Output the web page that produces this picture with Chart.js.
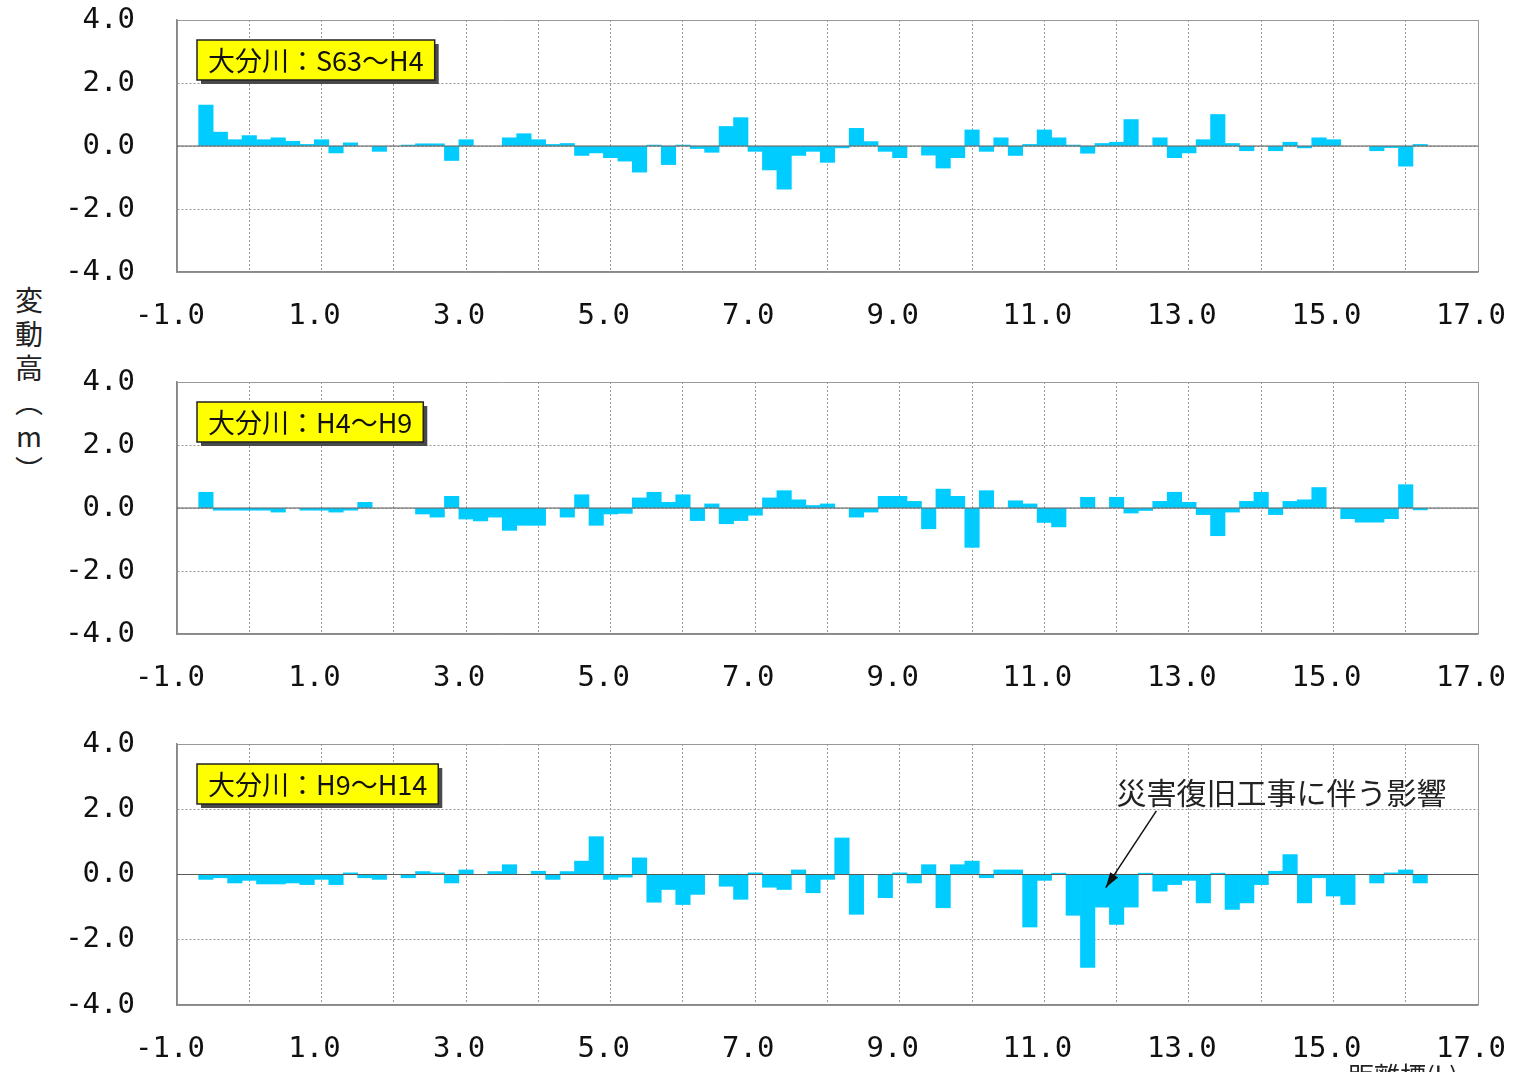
<!DOCTYPE html>
<html>
<head>
<meta charset="utf-8">
<script src="https://cdn.jsdelivr.net/npm/chart.js@4.4.1/dist/chart.umd.min.js"></script>
<style>
html, body { margin: 0; padding: 0; background: #fff; }
body { width: 1514px; height: 1072px; overflow: hidden; position: relative; }
canvas { position: absolute; left: 0; }
#yTitle { position: absolute; left: 9px; top: 286px; writing-mode: vertical-rl; text-orientation: upright;
  font: 28px "Noto Sans CJK JP"; letter-spacing: 6px; color: #222; }
#xTitle { position: absolute; left: 1348px; top: 1056px; font: 26px "Noto Sans CJK JP"; color: #222; }
</style>
</head>
<body>
<div id="yTitle">変動高（m）</div>
<canvas id="c1" width="1514" height="362" style="top:0px"></canvas>
<canvas id="c2" width="1514" height="362" style="top:362px"></canvas>
<canvas id="c3" width="1514" height="348" style="top:724px"></canvas>
<div id="xTitle">距離標(k)</div>
<script>
// distance marks (km)
const distances = [-0.6,-0.4,-0.2,0.0,0.2,0.4,0.6,0.8,1.0,1.2,1.4,1.6,1.8,2.0,2.2,2.4,2.6,2.8,3.0,3.2,
  3.4,3.6,3.8,4.0,4.2,4.4,4.6,4.8,5.0,5.2,5.4,5.6,5.8,6.0,6.2,6.4,6.6,6.8,7.0,7.2,
  7.4,7.6,7.8,8.0,8.2,8.4,8.6,8.8,9.0,9.2,9.4,9.6,9.8,10.0,10.2,10.4,10.6,10.8,11.0,11.2,
  11.4,11.6,11.8,12.0,12.2,12.4,12.6,12.8,13.0,13.2,13.4,13.6,13.8,14.0,14.2,14.4,14.6,14.8,15.0,15.2,
  15.4,15.6,15.8,16.0,16.2];

// 変動高 (m)
const changeS63H4 = [1.3,0.44,0.2,0.33,0.2,0.26,0.15,0.05,0.2,-0.22,
  0.1,null,-0.17,null,0.03,0.07,0.07,-0.46,0.2,null,
  null,0.26,0.39,0.2,0.05,0.08,-0.3,-0.22,-0.37,-0.48,
  -0.83,0.03,-0.59,0.03,-0.08,-0.2,0.62,0.9,-0.17,-0.76,
  -1.37,-0.3,-0.17,-0.52,-0.06,0.56,0.14,-0.17,-0.37,null,
  -0.29,-0.7,-0.37,0.51,-0.17,0.26,-0.3,0.05,0.51,0.26,
  0.03,-0.23,0.08,0.12,0.84,null,0.26,-0.37,-0.22,0.2,
  1.0,0.08,-0.15,null,-0.15,0.12,-0.06,0.26,0.2,null,
  null,-0.15,-0.05,-0.64,0.05];
const changeH4H9 = [0.5,-0.07,-0.07,-0.07,-0.07,-0.13,null,-0.07,-0.07,-0.13,
  -0.07,0.18,null,null,null,-0.19,-0.29,0.37,-0.35,-0.41,
  -0.29,-0.71,-0.55,-0.55,null,-0.29,0.42,-0.55,-0.19,-0.17,
  0.32,0.5,0.18,0.42,-0.4,0.13,-0.5,-0.4,-0.23,0.32,
  0.55,0.26,0.08,0.13,null,-0.29,-0.13,0.37,0.37,0.21,
  -0.66,0.6,0.37,-1.25,0.55,null,0.23,0.13,-0.46,-0.6,
  null,0.34,null,0.34,-0.16,-0.08,0.21,0.5,0.18,-0.21,
  -0.88,-0.13,0.21,0.5,-0.21,0.21,0.26,0.65,null,-0.34,
  -0.45,-0.45,-0.34,0.74,-0.06];
const changeH9H14 = [-0.15,-0.1,-0.26,-0.18,-0.29,-0.29,-0.26,-0.31,-0.15,-0.31,
  0.05,-0.1,-0.15,null,-0.1,0.09,0.05,-0.26,0.14,null,
  0.09,0.3,null,0.1,-0.15,0.09,0.41,1.16,-0.15,-0.08,
  0.51,-0.85,-0.46,-0.92,-0.61,null,-0.36,-0.76,0.05,-0.39,
  -0.46,0.14,-0.56,-0.15,1.12,-1.22,null,-0.71,0.05,-0.26,
  0.3,-1.02,0.3,0.41,-0.1,0.14,0.14,-1.61,-0.18,0.04,
  -1.25,-2.85,-1.0,-1.53,-1.0,0.04,-0.51,-0.31,-0.18,-0.87,
  0.04,-1.07,-0.87,-0.31,0.1,0.61,-0.87,-0.1,-0.66,-0.92,
  null,-0.26,0.05,0.14,-0.26];

const xTickLabels = ['-1.0','1.0','3.0','5.0','7.0','9.0','11.0','13.0','15.0','17.0'];
const yTickLabels = ['-4.0','-2.0','0.0','2.0','4.0'];
const panelLabels = ['大分川：S63～H4', '大分川：H4～H9', '大分川：H9～H14'];
const noteText = '災害復旧工事に伴う影響';

const tickFont = { family: "'DejaVu Sans Mono', monospace", size: 29 };

const panelDecor = {
    id: 'panelDecor',
    afterDatasetsDraw(chart, args, opts) {
        const { ctx, chartArea, scales } = chart;
        const y0 = scales.y.getPixelForValue(0);
        ctx.save();
        ctx.strokeStyle = '#5a5a5a';
        ctx.lineWidth = 1.2;
        ctx.beginPath();
        ctx.moveTo(chartArea.left, y0);
        ctx.lineTo(chartArea.right, y0);
        ctx.stroke();

        // yellow label box
        ctx.font = '27px "Noto Sans CJK JP"';
        const w = ctx.measureText(opts.label).width;
        const bx = chartArea.left + 20, by = chartArea.top + 20, bw = w + 22, bh = 40;
        ctx.fillStyle = '#4a4a4a';
        ctx.fillRect(bx + 4, by + 4, bw, bh);
        ctx.fillStyle = '#ffff00';
        ctx.fillRect(bx, by, bw, bh);
        ctx.strokeStyle = '#222';
        ctx.lineWidth = 1.5;
        ctx.strokeRect(bx, by, bw, bh);
        ctx.fillStyle = '#111';
        ctx.textBaseline = 'middle';
        ctx.fillText(opts.label, bx + 11, by + bh / 2 + 1);

        if (opts.note) {
            const n = opts.note;
            const sx = scales.x, sy = scales.y;
            ctx.font = '30px "Noto Sans CJK JP"';
            ctx.textAlign = 'center';
            ctx.fillStyle = '#222';
            ctx.fillText(n.text, sx.getPixelForValue(n.tx), sy.getPixelForValue(n.ty));
            const x1 = sx.getPixelForValue(n.fromX), y1 = sy.getPixelForValue(n.fromY);
            const x2 = sx.getPixelForValue(n.toX), y2 = sy.getPixelForValue(n.toY);
            ctx.strokeStyle = '#111';
            ctx.lineWidth = 1.5;
            ctx.beginPath();
            ctx.moveTo(x1, y1);
            ctx.lineTo(x2, y2);
            ctx.stroke();
            const ang = Math.atan2(y2 - y1, x2 - x1);
            ctx.beginPath();
            ctx.moveTo(x2, y2);
            ctx.lineTo(x2 - 16 * Math.cos(ang - 0.3), y2 - 16 * Math.sin(ang - 0.3));
            ctx.lineTo(x2 - 16 * Math.cos(ang + 0.3), y2 - 16 * Math.sin(ang + 0.3));
            ctx.closePath();
            ctx.fillStyle = '#111';
            ctx.fill();
        }
        ctx.restore();
    }
};

function makePanel(id, values, label, xAxisHeight, note) {
    const points = distances.map((d, i) => ({ x: d, y: values[i] }));
    new Chart(document.getElementById(id), {
        type: 'bar',
        data: {
            datasets: [{
                data: points,
                backgroundColor: '#00CCFF',
                borderWidth: 0,
                barPercentage: 1.0,
                categoryPercentage: 1.0
            }]
        },
        options: {
            responsive: false,
            animation: false,
            layout: { padding: { top: 20, right: 36, left: 0, bottom: 0 } },
            scales: {
                x: {
                    type: 'linear',
                    min: -1,
                    max: 17,
                    offset: false,
                    grid: { offset: false, drawTicks: false, color: '#999', lineWidth: 1 },
                    border: {
                        display: true, color: '#888', width: 1.5,
                        dash: ctx => (ctx.tick && ctx.tick.value !== 17 && ctx.tick.value !== -1) ? [2, 2] : []
                    },
                    ticks: {
                        stepSize: 1,
                        autoSkip: false,
                        maxRotation: 0,
                        padding: 27,
                        labelOffset: -7,
                        color: '#111',
                        font: tickFont,
                        callback: v => {
                            const s = v.toFixed(1);
                            return xTickLabels.includes(s) ? s : '';
                        }
                    },
                    afterFit: s => {
                        s.height = xAxisHeight;
                        s.paddingLeft = 0;
                        s.paddingRight = 0;
                    }
                },
                y: {
                    min: -4,
                    max: 4,
                    grid: { drawTicks: false, color: '#999', lineWidth: 1 },
                    border: {
                        display: true, color: '#888', width: 1.5,
                        dash: ctx => (ctx.tick && Math.abs(ctx.tick.value) !== 4) ? [2, 2] : []
                    },
                    ticks: {
                        stepSize: 2,
                        padding: 42,
                        color: '#111',
                        font: tickFont,
                        callback: v => {
                            const s = v.toFixed(1);
                            return yTickLabels.includes(s) ? s : '';
                        }
                    },
                    afterFit: s => {
                        s.width = 177;
                        s.paddingTop = 0;
                        s.paddingBottom = 0;
                    }
                }
            },
            plugins: {
                legend: { display: false },
                tooltip: { enabled: false },
                panelDecor: { label: label, note: note }
            }
        },
        plugins: [panelDecor]
    });
}

makePanel('c1', changeS63H4, panelLabels[0], 90, null);
makePanel('c2', changeH4H9, panelLabels[1], 90, null);
makePanel('c3', changeH9H14, panelLabels[2], 67, {
    text: noteText, tx: 14.28, ty: 2.5,
    fromX: 12.55, fromY: 1.95, toX: 11.85, toY: -0.4
});
</script>
</body>
</html>
